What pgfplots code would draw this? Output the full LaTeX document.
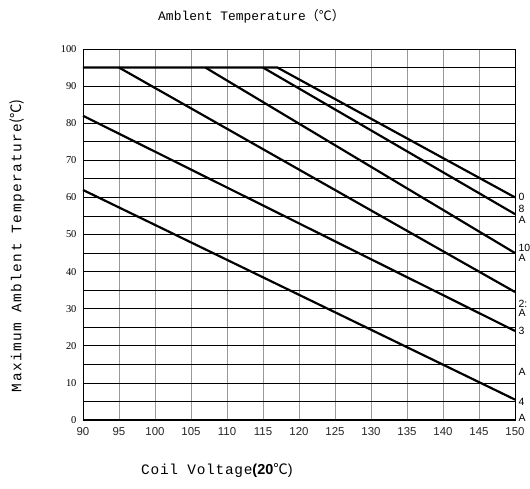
\documentclass[border=0pt]{standalone}
\usepackage{fontspec}
\setmainfont{Liberation Serif}
\newfontfamily\mono{Liberation Mono}
\newfontfamily\monowide{Liberation Mono}[LetterSpace=10]
\newfontfamily\monomid{Liberation Mono}[LetterSpace=5]
\newfontfamily\cjk{Noto Sans CJK SC}
\newfontfamily\sans{Liberation Sans}
\usepackage{pgfplots}
\pgfplotsset{compat=1.18}

\begin{document}
\begin{tikzpicture}
  \useasboundingbox (-83bp,-69bp) rectangle (447bp,420bp);
  \begin{axis}[
      at={(0,0)}, anchor=south west,
      scale only axis,
      width=432bp, height=371bp,
      xmin=90, xmax=150, ymin=0, ymax=100,
      xtick={90,95,...,150},
      ytick={0,10,...,100},
      minor ytick={5,15,...,95},
      grid=both,
      major x grid style={gray!80, line width=0.9pt},
      major y grid style={black, line width=0.8pt},
      minor y grid style={black, line width=0.8pt},
      major tick length=0pt, minor tick length=0pt,
      axis line style={black, line width=0.8pt},
      xticklabel style={font=\sans\fontsize{11.5}{12}\selectfont, text=black!85, yshift=-4bp},
      yticklabel style={font=\fontsize{10.5}{11}\selectfont, xshift=-3bp},
      /pgf/number format/assume math mode=true,
      title={\mono Amblent Temperature{\cjk （℃）}},
      title style={font=\fontsize{13}{14}\selectfont, at={(axis description cs:0.39,1)}, yshift=16bp},
      xlabel={\monomid Coil Voltage{\sans\bfseries (20}{\cjk ℃}{\sans )}},
      xlabel style={font=\fontsize{14.5}{16}\selectfont, at={(axis description cs:0.31,-0.135)}, anchor=center},
      ylabel={\monowide Maximum Amblent Temperature{\cjk (℃)}},
      ylabel style={font=\fontsize{14.5}{16}\selectfont, at={(axis description cs:-0.153,0.47)}, anchor=center, rotate=0},
      clip=false,
    ]
    % thicker reference lines
    \addplot[black, line width=1.4pt] coordinates {(90,75) (150,75)};
    \addplot[black, line width=1.4pt] coordinates {(90,30) (150,30)};
    \addplot[black, line width=2pt] coordinates {(90,0) (150,0)};
    % derating curves
    \addplot[black, line width=2.2pt] coordinates {(90,95) (117,95) (150,60)};
    \addplot[black, line width=2.2pt] coordinates {(115,95) (150,55.5)};
    \addplot[black, line width=2.2pt] coordinates {(107,95) (150,45)};
    \addplot[black, line width=2.2pt] coordinates {(95,95) (150,34.5)};
    \addplot[black, line width=2.2pt] coordinates {(90,82) (150,24)};
    \addplot[black, line width=2.2pt] coordinates {(90,62) (150,5.5)};
    % labels at right edge
    \begin{scope}[every node/.style={font=\sans\fontsize{10.5}{11}\selectfont, anchor=west, inner sep=0.5bp}]
      \node at (axis cs:150.4,60) {0};
      \node at (axis cs:150.4,56.8) {8};
      \node at (axis cs:150.4,54) {A};
      \node at (axis cs:150.4,46.3) {10};
      \node at (axis cs:150.4,43.8) {A};
      \node at (axis cs:150.4,31.3) {2:};
      \node at (axis cs:150.4,28.8) {A};
      \node at (axis cs:150.4,24) {3};
      \node at (axis cs:150.4,13) {A};
      \node at (axis cs:150.4,5) {4};
      \node at (axis cs:150.4,0.5) {A};
    \end{scope}
  \end{axis}
\end{tikzpicture}
\end{document}
